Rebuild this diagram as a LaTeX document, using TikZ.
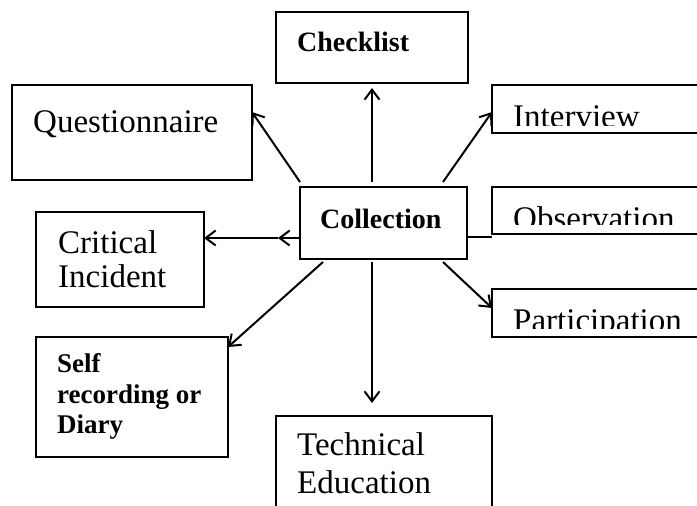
\documentclass[tikz,border=0pt]{standalone}
\usepackage{fontspec}
\setmainfont{Liberation Serif}
\usetikzlibrary{arrows.meta,calc}

\begin{document}
\begin{tikzpicture}[x=1pt,y=-1pt,
  box/.style={draw, line width=1.8pt, rectangle, inner sep=0pt, outer sep=0pt, anchor=north west},
  arr/.style={line width=2pt, -{Straight Barb[length=10pt,width=15pt,line width=2pt]}},
  conn/.style={line width=2pt},
  lbl/.style={anchor=base west, inner sep=0pt, font=\fontsize{33}{39}\selectfont},
  blbl/.style={anchor=base west, inner sep=0pt, font=\fontsize{28}{33}\selectfont\bfseries},
  sblbl/.style={anchor=base west, inner sep=0pt, font=\fontsize{27}{32}\selectfont\bfseries}]

\fill[white] (0,0) rectangle (697,506);
\useasboundingbox (0,0) rectangle (697,506);
\clip (0,0) rectangle (697,506);

% boxes
\node[box, minimum width=192pt, minimum height=71pt]  (check) at (276,12)  {};
\node[box, minimum width=240pt, minimum height=95pt]  (quest) at (12,85)   {};
\node[box, minimum width=218pt, minimum height=48pt]  (inter) at (492,85)  {};
\node[box, minimum width=167pt, minimum height=72pt]  (coll)  at (300,187) {};
\node[box, minimum width=218pt, minimum height=47pt]  (obs)   at (492,187) {};
\node[box, minimum width=168pt, minimum height=95pt]  (crit)  at (36,212)  {};
\node[box, minimum width=218pt, minimum height=48pt]  (part)  at (492,289) {};
\node[box, minimum width=192pt, minimum height=120pt] (self)  at (36,337)  {};
\node[box, minimum width=216pt, minimum height=110pt] (tech)  at (276,416) {};

% labels
\node[blbl] (t-check) at (297,52) {Checklist};
\node[lbl]  (t-quest) at (33,132) {Questionnaire};
\node[blbl] (t-coll)  at (320,228) {Collection};
\node[lbl]  (t-crit1) at (58,253) {Critical};
\node[lbl]  (t-crit2) at (58,287) {Incident};
\node[sblbl] (t-self1) at (57,372) {Self};
\node[sblbl] (t-self2) at (57,403) {recording or};
\node[sblbl] (t-self3) at (57,433) {Diary};
\node[lbl]  (t-tech1) at (297,455) {Technical};
\node[lbl]  (t-tech2) at (297,493) {Education};

% labels cut off by the lower edge of their text frames
\begin{scope}
  \clip (inter.north west) rectangle (697,125);
  \node[lbl] (t-inter) at (513,127) {Interview};
\end{scope}
\begin{scope}
  \clip (obs.north west) rectangle (697,224);
  \node[lbl] (t-obs) at (513,229) {Observation};
\end{scope}
\begin{scope}
  \clip (part.north west) rectangle (697,328);
  \node[lbl] (t-part) at (513,331) {Participation};
\end{scope}

% connectors
\coordinate (mid) at ($(coll.south west)+(-22,-21)$);
\draw[arr] ($(coll.north west)+(72,-5)$) -- ($(check.south)+(0,5)$);
\draw[arr] ($(coll.north west)+(0,-5)$) -- ($(quest.north east)+(0,27)$);
\draw[arr] ($(coll.north east)+(-24,-5)$) -- ($(inter.north west)+(0,27)$);
\draw[arr] ($(coll.south west)+(0,-21)$) -- (mid);
\draw[arr] (mid) -- ($(crit.north east)+(0,26)$);
\draw[conn] ($(coll.south east)+(0,-22)$) -- ($(obs.south west)+(0,3)$);
\draw[arr] ($(coll.south east)+(-24,3)$) -- ($(part.north west)+(0,19)$);
\draw[arr] ($(coll.south west)+(23,3)$) -- ($(self.north east)+(0,10)$);
\draw[arr] ($(coll.south west)+(72,3)$) -- ($(tech.north west)+(96,-13)$);
\end{tikzpicture}
\end{document}
